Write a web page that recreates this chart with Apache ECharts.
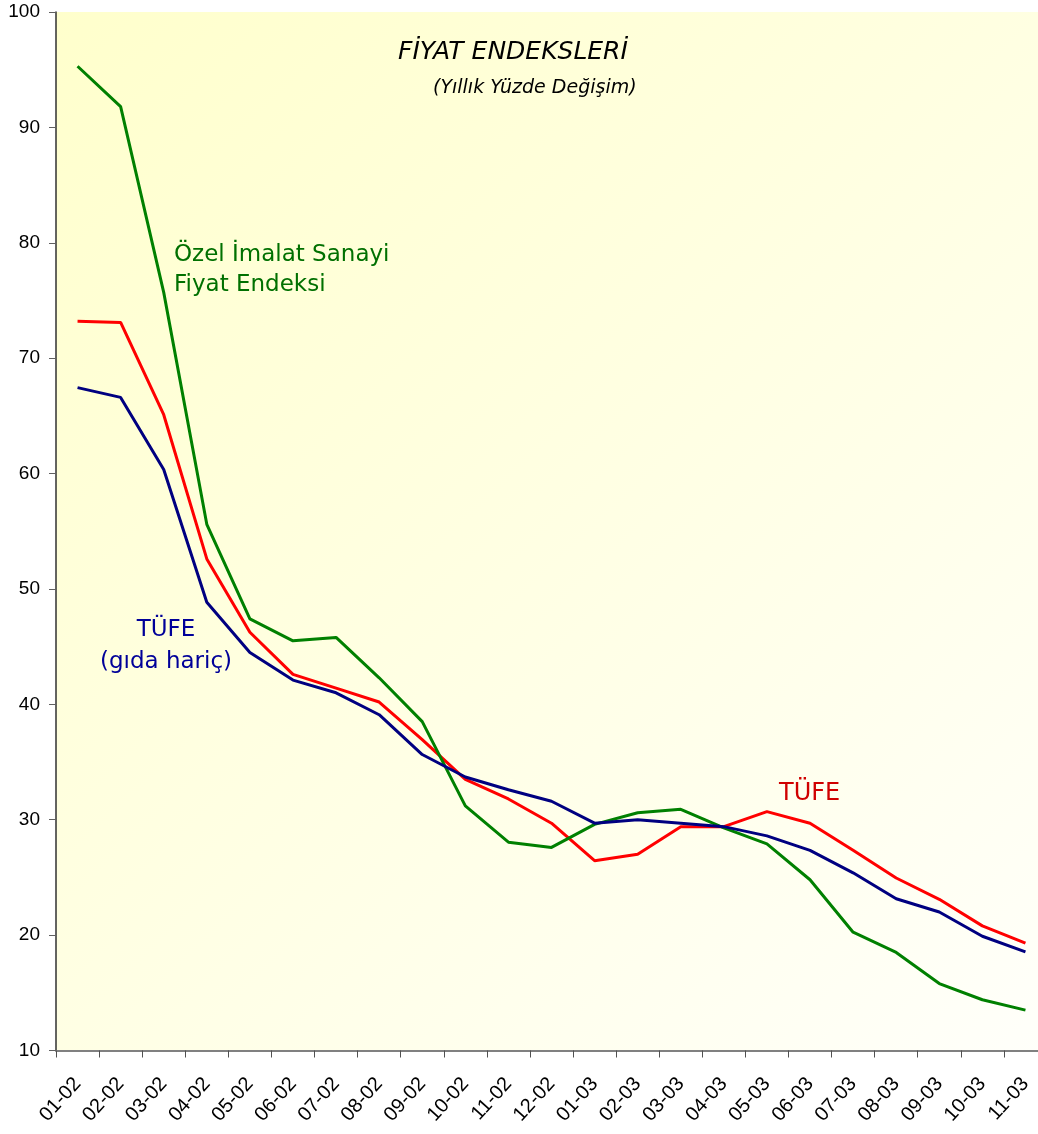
<!DOCTYPE html>
<html>
<head>
<meta charset="utf-8">
<script src="https://cdn.jsdelivr.net/npm/echarts@6/dist/echarts.min.js"></script>
<style>html,body{margin:0;padding:0;background:#fff;overflow:hidden;width:1038px;height:1134px;}#c{width:1047px;height:1134px;}</style>
</head>
<body>
<div id="c"></div>
<script>
const categories = ['01-02','02-02','03-02','04-02','05-02','06-02','07-02','08-02','09-02','10-02','11-02','12-02',
  '01-03','02-03','03-03','04-03','05-03','06-03','07-03','08-03','09-03','10-03','11-03'];
const ozelImalat = [95.3,91.8,75.7,55.6,47.4,45.5,45.8,42.3,38.5,31.2,28.05,27.6,29.6,30.6,30.9,29.3,27.9,24.8,20.25,18.5,15.8,14.4,13.5];
const tufe = [73.2,73.1,65.1,52.6,46.25,42.6,41.4,40.2,36.95,33.5,31.8,29.7,26.45,27.0,29.4,29.4,30.7,29.7,27.35,24.95,23.1,20.8,19.3];
const tufeGidaHaric = [67.45,66.6,60.35,48.85,44.5,42.1,41.0,39.1,35.65,33.7,32.6,31.6,29.7,30.0,29.7,29.4,28.6,27.35,25.4,23.15,22.0,19.9,18.55];
const yTicks = {min:10, max:100, interval:10};

const chart = echarts.init(document.getElementById('c'), null, {renderer:'canvas'});
const lbl = 'Tahoma, "DejaVu Sans", sans-serif';
const axisFont = '"Liberation Sans", Arial, sans-serif';
chart.setOption({
  animation:false,
  backgroundColor:'#ffffff',
  grid:{left:56, top:12, right:0, height:1038.5, show:true, borderWidth:0,
    backgroundColor:new echarts.graphic.LinearGradient(0,0,1,1,[{offset:0,color:'#FFFFCC'},{offset:0.5,color:'#FFFFE3'},{offset:1,color:'#FFFFFA'}])},
  xAxis:{type:'category', data:categories, boundaryGap:true,
    axisLine:{lineStyle:{color:'#808080', width:2}},
    axisTick:{show:true, alignWithLabel:false, length:7, lineStyle:{color:'#505050', width:1}},
    axisLabel:{rotate:48, interval:0, margin:30, color:'#000', fontFamily:axisFont, fontSize:20}
  },
  yAxis:{type:'value', min:yTicks.min, max:yTicks.max, interval:yTicks.interval,
    splitLine:{show:false},
    axisLine:{show:true, lineStyle:{color:'#303030', width:1.5}},
    axisTick:{show:true, length:7, lineStyle:{color:'#606060'}},
    axisLabel:{margin:16, color:'#000', fontFamily:axisFont, fontSize:19}
  },
  series:[
    {name:'Özel İmalat Sanayi Fiyat Endeksi', type:'line', data:ozelImalat, showSymbol:false, lineStyle:{color:'#008000', width:3}, itemStyle:{color:'#008000'}, z:3},
    {name:'TÜFE', type:'line', data:tufe, showSymbol:false, lineStyle:{color:'#FF0000', width:3}, itemStyle:{color:'#FF0000'}, z:2},
    {name:'TÜFE (gıda hariç)', type:'line', data:tufeGidaHaric, showSymbol:false, lineStyle:{color:'#000080', width:3}, itemStyle:{color:'#000080'}, z:4}
  ],
  graphic:[
    {type:'text', left:398, top:40, style:{text:'FİYAT ENDEKSLERİ', font:'italic 25px '+lbl, fill:'#000'}},
    {type:'text', left:433, top:79, style:{text:'(Yıllık Yüzde Değişim)', font:'italic 19px '+lbl, fill:'#000'}},
    {type:'text', left:174, top:240, style:{text:'Özel İmalat Sanayi\nFiyat Endeksi', font:'23px '+lbl, fill:'#007000', lineHeight:30}},
    {type:'text', x:166, y:614, style:{text:'TÜFE\n(gıda hariç)', font:'23px '+lbl, fill:'#000099', lineHeight:32, align:'center'}},
    {type:'text', left:779, top:782, style:{text:'TÜFE', font:'24px '+lbl, fill:'#D00000'}}
  ]
});
</script>
</body>
</html>
